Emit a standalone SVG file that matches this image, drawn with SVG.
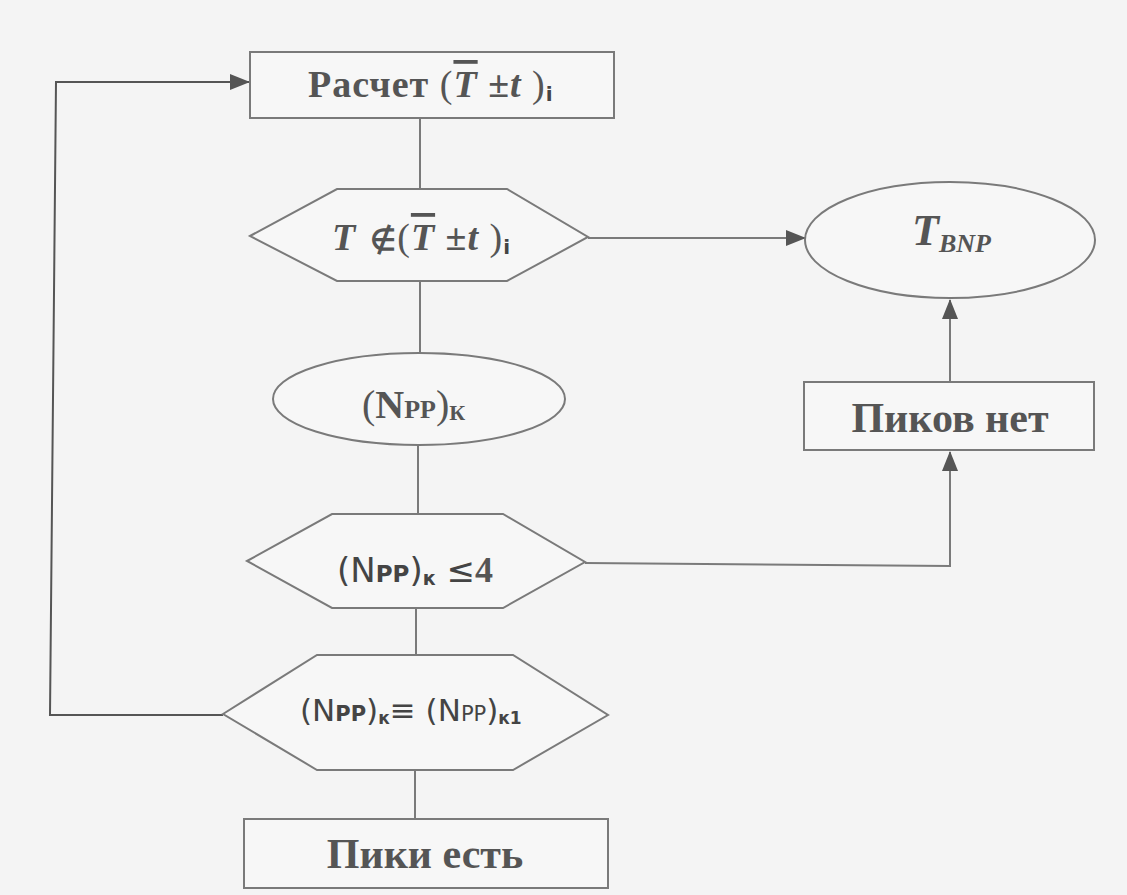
<svg xmlns="http://www.w3.org/2000/svg" width="1127" height="895" viewBox="0 0 1127 895">
<style>
.shape{fill:#f7f7f7;stroke:#7a7a7a;stroke-width:2}
.line{fill:none;stroke:#7a7a7a;stroke-width:2}
.dark{stroke:#555}
.serif{font-family:"Liberation Serif","Times New Roman",serif;font-weight:bold;fill:#555}
.sans{font-family:"DejaVu Sans","Liberation Sans",sans-serif;fill:#444}
</style>
<defs>
<marker id="arr" viewBox="0 0 20 16" refX="19" refY="8" markerWidth="20" markerHeight="16" markerUnits="userSpaceOnUse" orient="auto">
<path d="M0,0 L20,8 L0,16 Z" fill="#555"/>
</marker>
</defs>
<rect width="1127" height="895" fill="#f4f4f4"/>
<g id="connectors">
<line class="line" x1="420" y1="118" x2="420" y2="189"/>
<line class="line" x1="588" y1="238" x2="805" y2="238" marker-end="url(#arr)"/>
<line class="line" x1="420" y1="281" x2="420" y2="353"/>
<line class="line" x1="418" y1="445" x2="418" y2="514"/>
<polyline class="line" points="585,563 950,566 950,452" marker-end="url(#arr)"/>
<line class="line" x1="950" y1="382" x2="950" y2="300" marker-end="url(#arr)"/>
<line class="line" x1="416" y1="608" x2="416" y2="655"/>
<line class="line" x1="415" y1="770" x2="415" y2="819"/>
<polyline class="line dark" points="223,715 50,715 56,82 249,82" marker-end="url(#arr)"/>
</g>
<g id="calc">
<rect class="shape" x="250" y="52" width="364" height="66"/>
<text class="serif" x="308" y="97" font-size="38" letter-spacing="1">Расчет <tspan font-weight="normal">(</tspan><tspan font-style="italic" text-decoration="overline">T</tspan> ±<tspan font-style="italic">t</tspan><tspan font-weight="normal"> )</tspan><tspan class="sans" font-size="20" font-weight="bold" dy="4">i</tspan></text>
</g>
<g id="cond1">
<polygon class="shape" points="250,236 337,189 507,189 588,237 507,281 337,281"/>
<text class="serif" x="332" y="250" font-size="38" letter-spacing="1"><tspan font-style="italic">T</tspan><tspan font-size="30" dx="14">∉</tspan><tspan font-weight="normal">(</tspan><tspan font-style="italic" text-decoration="overline">T</tspan> ±<tspan font-style="italic">t</tspan><tspan font-weight="normal"> )</tspan><tspan class="sans" font-size="20" font-weight="bold" dy="4">i</tspan></text>
</g>
<g id="tbnp">
<ellipse class="shape" cx="950" cy="240" rx="145" ry="58"/>
<text class="serif" x="912" y="245" font-size="44" font-style="italic">T<tspan font-size="26" dy="7">BNP</tspan></text>
</g>
<g id="npp">
<ellipse class="shape" cx="419" cy="399" rx="146" ry="46"/>
<text class="serif" x="362" y="418" font-size="40"><tspan font-weight="normal">(</tspan>N<tspan font-size="26">PP</tspan><tspan font-weight="normal">)</tspan><tspan font-size="22" dy="2">К</tspan></text>
</g>
<g id="cond2">
<polygon class="shape" points="247,561 332,514 503,514 585,562 503,608 332,608"/>
<text class="sans" x="337" y="582" font-size="34">(N<tspan font-size="23" font-weight="bold">PP</tspan>)<tspan font-size="19" font-weight="bold" dy="3">к</tspan><tspan dy="-3"> ≤</tspan><tspan class="serif" font-size="36">4</tspan></text>
</g>
<g id="cond3">
<polygon class="shape" points="223,714 317,655 513,655 608,715 513,770 317,770"/>
<text class="sans" x="300" y="721" font-size="31">(N<tspan font-size="21" font-weight="bold">PP</tspan>)<tspan font-size="17" font-weight="bold" dy="3">к</tspan><tspan dy="-3">≡ (N</tspan><tspan font-size="21">PP</tspan>)<tspan font-size="17" font-weight="bold" dy="3">к1</tspan></text>
</g>
<g id="nopeaks">
<rect class="shape" x="804" y="382" width="290" height="68"/>
<text class="serif" x="950" y="432" font-size="42" text-anchor="middle">Пиков нет</text>
</g>
<g id="peaks">
<rect class="shape" x="244" y="819" width="364" height="69"/>
<text class="serif" x="425" y="868" font-size="42" text-anchor="middle">Пики есть</text>
</g>
</svg>
